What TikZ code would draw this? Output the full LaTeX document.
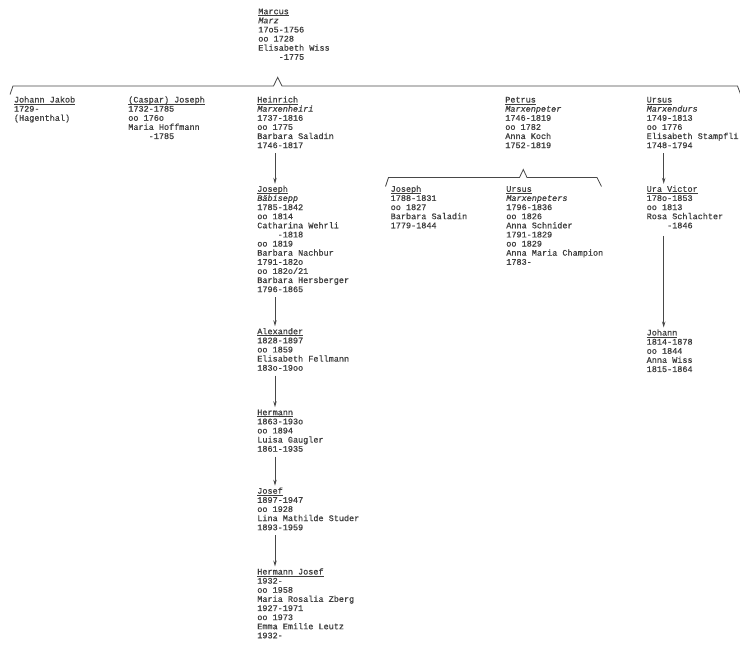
\documentclass[tikz,border=0pt]{standalone}
\usepackage{fontspec}
\setmainfont{Liberation Mono}[UprightFeatures={FakeBold=0.7},ItalicFeatures={FakeBold=0.7}]
\usetikzlibrary{arrows.meta}
\definecolor{inkc}{RGB}{62,62,62}
\definecolor{linec}{RGB}{72,72,72}
\newcommand{\famstrut}{\vrule width 0pt height 7pt depth 2.5pt}
\newcommand{\famblock}[1]{\vtop{\baselineskip=9.12pt\lineskiplimit=-20pt\lineskip=0pt\halign{##\famstrut\hfil\cr#1\crcr}}}
\newcommand{\ulname}[1]{\setbox0=\hbox{#1}\rlap{\rule[-1.8pt]{\wd0}{0.55pt}}\box0}
\newcommand{\ind}{\hphantom{0000}}
\tikzset{
  fam/.style={anchor=base west, inner sep=0pt, outer sep=0pt, text=inkc, font=\fontsize{8.5}{9.12}\selectfont},
  arr/.style={draw=linec, line width=0.8pt, -{Stealth[length=6pt,width=3.4pt]}, shorten <=2.5pt, shorten >=1pt},
  brk/.style={draw=linec, line width=0.8pt, line join=miter}
}
\begin{document}
\begin{tikzpicture}[x=1pt,y=-1pt]
\useasboundingbox[fill=white] (0,0) rectangle (740,652);

% generation 0
\node[fam] (marcus) at (258.3,14.2) {\famblock{\ulname{Marcus}\cr \textit{Marz}\cr 17o5-1756\cr oo 1728\cr Elisabeth Wiss\cr \ind-1775}};

% big bracket
\coordinate (bAL) at (10,94.5);
\coordinate (bA1) at (13,86);
\coordinate (bApL) at (273.5,86);
\coordinate (bApex) at (277.7,77.3);
\coordinate (bApR) at (282,86);
\coordinate (bAR) at (737.5,86);
\coordinate (bAE) at (740.5,94);
\draw[brk] (bAL) -- (bA1) -- (bApL) -- (bApex) -- (bApR) -- (bAR) -- (bAE);

% generation 1
\node[fam] (johannjakob) at (14,102.5) {\famblock{\ulname{Johann Jakob}\cr 1729-\cr (Hagenthal)}};
\node[fam] (caspar) at (128.3,102.5) {\famblock{\ulname{(Caspar) Joseph}\cr 1732-1785\cr oo 176o\cr Maria Hoffmann\cr \ind-1785}};
\node[fam] (heinrich) at (257.3,102.5) {\famblock{\ulname{Heinrich}\cr \textit{Marxenheiri}\cr 1737-1816\cr oo 1775\cr Barbara Saladin\cr 1746-1817}};
\node[fam] (petrus) at (505.3,102.5) {\famblock{\ulname{Petrus}\cr \textit{Marxenpeter}\cr 1746-1819\cr oo 1782\cr Anna Koch\cr 1752-1819}};
\node[fam] (ursus) at (646.7,102.5) {\famblock{\ulname{Ursus}\cr \textit{Marxendurs}\cr 1749-1813\cr oo 1776\cr Elisabeth Stampfli\cr 1748-1794}};

% Petrus bracket
\coordinate (bBL) at (385.5,186.5);
\coordinate (bB1) at (388.5,177.5);
\coordinate (bBpL) at (519.5,177.5);
\coordinate (bBpex) at (523.3,169.5);
\coordinate (bBpR) at (527,177.5);
\coordinate (bBR) at (597,177.5);
\coordinate (bBE) at (601.5,186.5);
\draw[brk] (bBL) -- (bB1) -- (bBpL) -- (bBpex) -- (bBpR) -- (bBR) -- (bBE);

% generation 2
\node[fam] (joseph) at (257.3,191.8) {\famblock{\ulname{Joseph}\cr \textit{Bäbisepp}\cr 1785-1842\cr oo 1814\cr Catharina Wehrli\cr \ind-1818\cr oo 1819\cr Barbara Nachbur\cr 1791-182o\cr oo 182o/21\cr Barbara Hersberger\cr 1796-1865}};
\node[fam] (josephb) at (390.7,191.8) {\famblock{\ulname{Joseph}\cr 1788-1831\cr oo 1827\cr Barbara Saladin\cr 1779-1844}};
\node[fam] (ursusb) at (506.3,191.8) {\famblock{\ulname{Ursus}\cr \textit{Marxenpeters}\cr 1796-1836\cr oo 1826\cr Anna Schnider\cr 1791-1829\cr oo 1829\cr Anna Maria Champion\cr 1783-}};
\node[fam] (uravictor) at (646.7,191.8) {\famblock{\ulname{Ura Victor}\cr 178o-1853\cr oo 1813\cr Rosa Schlachter\cr \ind-1846}};

% later generations
\node[fam] (johann) at (646.7,335.5) {\famblock{\ulname{Johann}\cr 1814-1878\cr oo 1844\cr Anna Wiss\cr 1815-1864}};
\node[fam] (alexander) at (257.3,334.2) {\famblock{\ulname{Alexander}\cr 1828-1897\cr oo 1859\cr Elisabeth Fellmann\cr 183o-19oo}};
\node[fam] (hermann) at (257.3,415.2) {\famblock{\ulname{Hermann}\cr 1863-193o\cr oo 1894\cr Luisa Gaugler\cr 1861-1935}};
\node[fam] (josef) at (257.3,493.7) {\famblock{\ulname{Josef}\cr 1897-1947\cr oo 1928\cr Lina Mathilde Studer\cr 1893-1959}};
\node[fam] (hermannjosef) at (257.3,574.5) {\famblock{\ulname{Hermann Josef}\cr 1932-\cr oo 1958\cr Maria Rosalia Zberg\cr 1927-1971\cr oo 1973\cr Emma Emilie Leutz\cr 1932-}};

% arrows
\draw[arr] ([xshift=17.7pt]heinrich.south west) -- ([xshift=17.7pt]joseph.north west);
\draw[arr] ([xshift=17.7pt]joseph.south west) -- ([xshift=17.7pt]alexander.north west);
\draw[arr] ([xshift=17.7pt]alexander.south west) -- ([xshift=17.7pt]hermann.north west);
\draw[arr] ([xshift=17.7pt]hermann.south west) -- ([xshift=17.7pt]josef.north west);
\draw[arr] ([xshift=17.7pt]josef.south west) -- ([xshift=17.7pt]hermannjosef.north west);
\draw[arr] ([xshift=17pt]ursus.south west) -- ([xshift=17pt]uravictor.north west);
\draw[arr, shorten <=5pt] ([xshift=17pt]uravictor.south west) -- ([xshift=17pt]johann.north west);
\end{tikzpicture}
\end{document}
